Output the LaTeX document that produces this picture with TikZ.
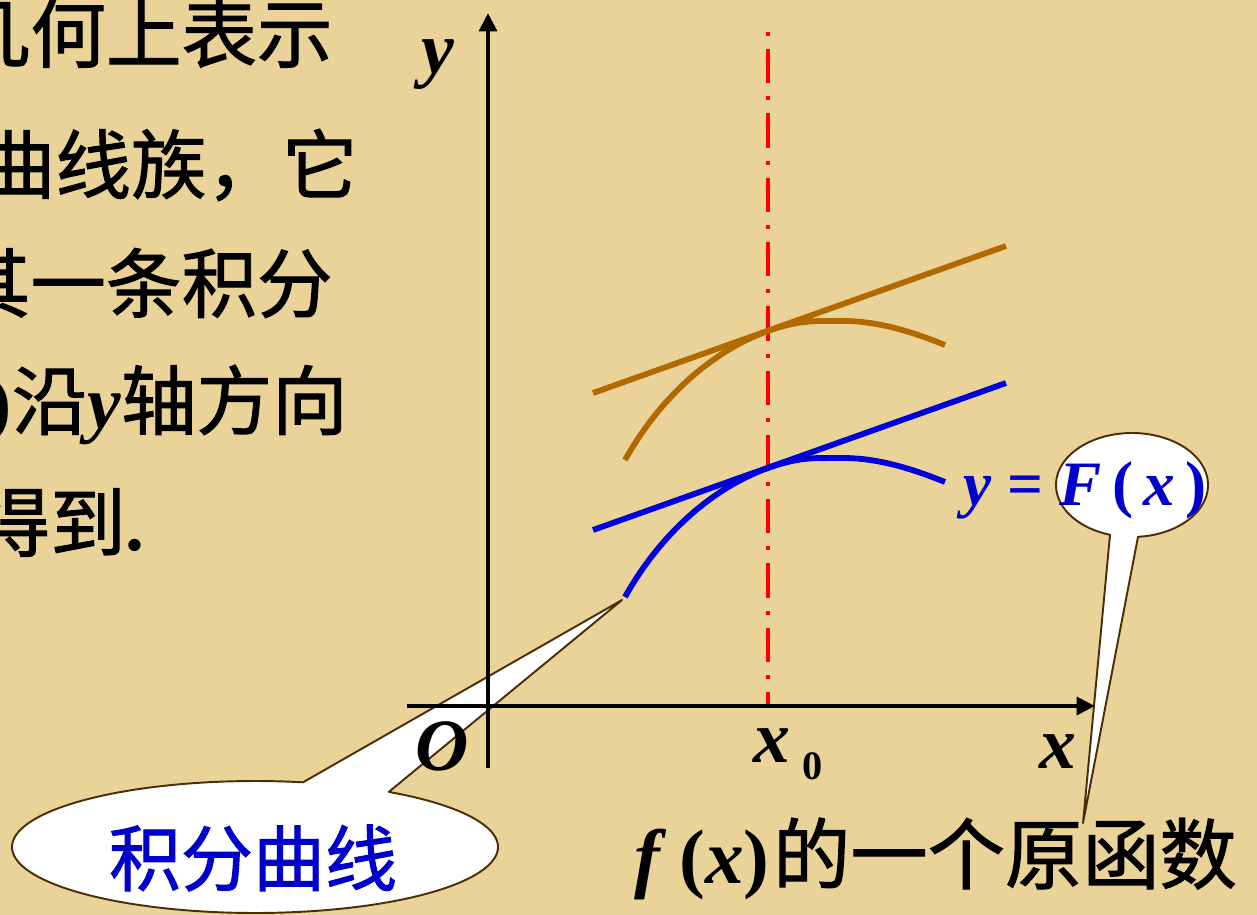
\documentclass[tikz,border=0pt]{standalone}
\usepackage{fontspec}
\setmainfont{Liberation Serif}
\newfontfamily\cjk{Noto Sans CJK SC}[FakeBold=1.3]
\usetikzlibrary{arrows.meta}
\definecolor{bgcol}{RGB}{233,211,152}
\definecolor{curvebrown}{RGB}{178,106,0}
\definecolor{curveblue}{RGB}{0,0,222}
\definecolor{textblue}{RGB}{0,0,204}
\definecolor{outlinecol}{RGB}{75,45,10}
\begin{document}
\begin{tikzpicture}[x=0.02cm,y=-0.02cm,
  lbl/.style={inner sep=0pt, font=\fontsize{42}{48}\selectfont\bfseries\itshape},
  cjktext/.style={inner sep=0pt, font=\cjk\fontsize{43}{50}\selectfont},
  axisline/.style={line width=2.7pt, -{Triangle[length=10.5pt,width=10pt]}},
  famcurve/.style={line width=3.3pt},
  calloutshape/.style={draw=outlinecol, line width=1.1pt, fill=white, line join=round},
  dashdot/.style={red, line width=1.9pt, dash pattern=on 2.3pt off 7.4pt on 19.5pt off 7.4pt}]
\useasboundingbox (0,0) rectangle (1257,915);
\clip (0,0) rectangle (1257,915);
\fill[bgcol] (0,0) rectangle (1257,915);

% left explanatory text (cut by the left edge)
\node[cjktext, anchor=east] (t1) at (333,33) {几何上表示};
\node[cjktext, anchor=east] (t2) at (358,165) {曲线族，它};
\node[cjktext, anchor=east] (t3) at (333,283) {其一条积分};
\node[cjktext, anchor=east] (t4) at (348,405) {{\rmfamily\bfseries )}沿{\rmfamily\bfseries\itshape y}轴方向};
\node[cjktext, anchor=east] (t5) at (145,522) {得到{\rmfamily\bfseries .}};

% callouts
\draw[calloutshape] (303,782.3) -- (622,600) -- (388.8,791.9)
  -- plot[domain=-56.6:281.4, samples=150] ({255+243*cos(\x)},{847+66*sin(\x)}) -- cycle;
\draw[calloutshape] (1110,534.8) -- (1083,823) -- (1138,536.8)
  -- plot[domain=85.5:-253.2, samples=120] ({1132+76*cos(\x)},{485+52*sin(\x)}) -- cycle;

% vertical dash-dot line at x0
\coordinate (rtop) at (768,32);
\coordinate (rbot) at (768,706);
\draw[dashdot] (rtop) -- (rbot);

% tangent lines
\coordinate (tb1) at (593,393); \coordinate (tb2) at (1006,246);
\coordinate (tl1) at (593,530); \coordinate (tl2) at (1006,383);
\draw[famcurve, curvebrown] (tb1) -- (tb2);
\draw[famcurve, curveblue] (tl1) -- (tl2);

% integral curves
\foreach \off/\col in {0/curvebrown, 137/curveblue}{
  \begin{scope}[shift={(0,\off)}]
    \draw[famcurve, \col] (625,460) .. controls (662,394) and (715,350) .. (768,331)
      .. controls (800,319.6) and (815,321) .. (843,321)
      .. controls (880,321) and (915,333) .. (945,345);
  \end{scope}
}

% axes
\coordinate (xs) at (407,706); \coordinate (xe) at (1095,706);
\coordinate (ys) at (488,768); \coordinate (ye) at (488,13);
\draw[axisline] (xs) -- (xe);
\draw[axisline] (ys) -- (ye);

% labels
\node[lbl, anchor=base] (ylab) at (438,74) {y};
\node[lbl, anchor=base] (xlab) at (1058,768) {x};
\node[lbl, anchor=base] (olab) at (442,770) {O};
\node[lbl, anchor=base west] (x0lab) at (753,762) {x\,\raisebox{-10pt}{\fontsize{23}{23}\selectfont\upshape 0}};
\node[lbl, anchor=base west, font=\fontsize{36}{40}\selectfont\bfseries, text=textblue] (Flab) at (963,505)
  {\textit{y} = \textit{F}\,(\,\textit{x}\,)};
\node[lbl, anchor=base west, font=\fontsize{44}{48}\selectfont\bfseries] (flab) at (634,883)
  {\textit{f}\,(\textit{x})\hspace{2pt}{\cjk\mdseries 的一个原函数}};
\node[inner sep=0pt, font=\cjk\fontsize{41}{48}\selectfont, text=textblue] (jf) at (253,858) {积分曲线};
\end{tikzpicture}
\end{document}
